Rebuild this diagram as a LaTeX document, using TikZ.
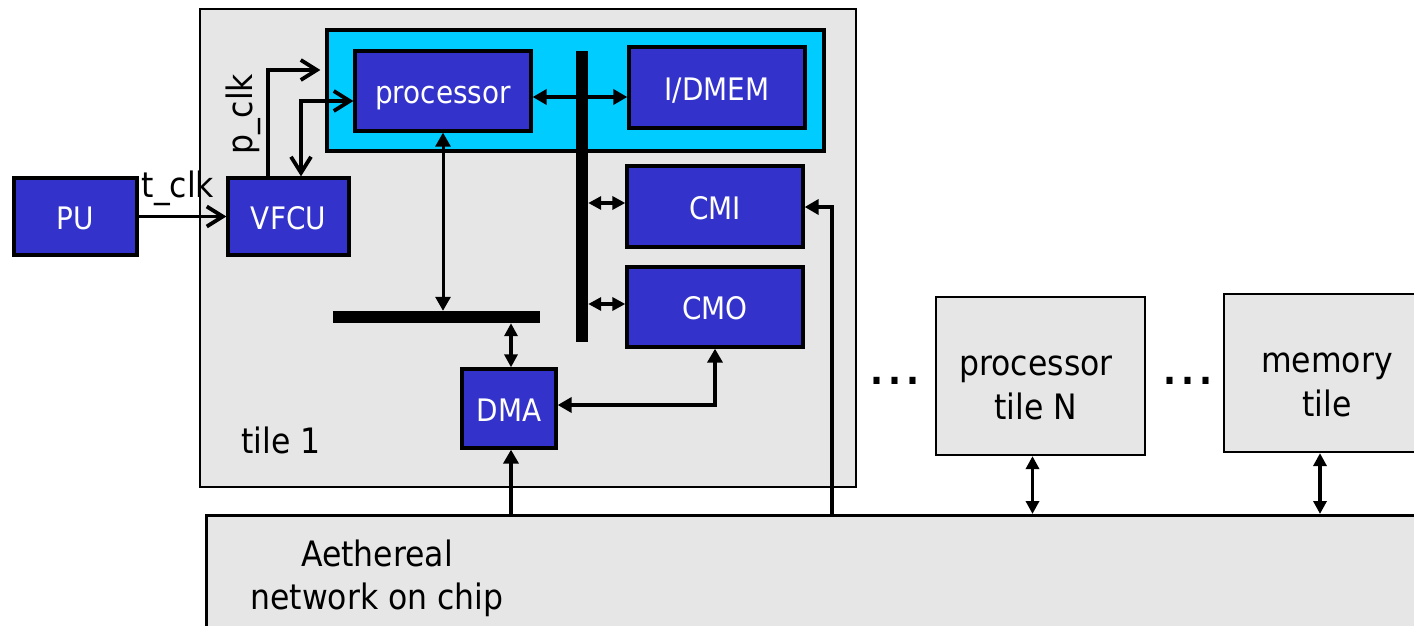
\documentclass[tikz,border=0pt]{standalone}
\usepackage{fontspec}
\setmainfont{DejaVu Sans}[FakeStretch=0.9]
\usetikzlibrary{arrows.meta}
\definecolor{chipblue}{HTML}{3333CC}
\definecolor{cyanreg}{HTML}{00CCFF}
\definecolor{tilegray}{HTML}{E6E6E6}
\newcommand\boxfont{\fontsize{31pt}{37pt}\selectfont}
\newcommand\bigfont{\fontsize{35pt}{43pt}\selectfont}
\newcommand\dotfont{\fontsize{38pt}{46pt}\selectfont\bfseries}
\newcommand\spreaddots{.\kern5pt.\kern5pt.}

\begin{document}
\begin{tikzpicture}[x=1pt,y=-1pt,
  sz/.style 2 args={minimum width=#1pt, minimum height=#2pt},
  unit/.style={draw, line width=3.3pt, fill=chipblue, text=white, inner sep=0pt,
    font=\boxfont, text height=25pt, text depth=0pt},
  tilebox/.style={draw, line width=2.2pt, fill=tilegray, inner sep=0pt},
  busbar/.style={fill=black, inner sep=0pt},
  lbl/.style={font=\bigfont, inner sep=0pt},
  tri/.tip={Triangle[length=14pt,width=15pt]},
  smalltri/.tip={Triangle[length=13pt,width=13pt]},
  barb/.tip={Straight Barb[length=16pt,width=20pt]},
  link/.style={line width=3.8pt, tri-tri},
  thinlink/.style={line width=3pt, tri-tri},
  shortlink/.style={line width=3.4pt, smalltri-smalltri},
  feed/.style={line width=3.8pt, -tri},
  clk/.style={line width=3.8pt, -barb},
  clkboth/.style={line width=3.8pt, barb-barb},
]
\useasboundingbox (0,0) rectangle (1414,626);
\clip (0,0) rectangle (1414,626);

% network on chip
\node[tilebox, line width=2.5pt, anchor=north west, sz={1260}{150}] (noc) at (205,514) {};
\node[lbl, anchor=base] (noclabelA) at (377,566) {Aethereal};
\node[lbl, anchor=base] (noclabelB) at (377,609) {network on chip};

% tile 1
\node[tilebox, sz={656}{478}] (tile1) at (528,248) {};
\node[lbl, anchor=base] (tilelabel) at (281,453) {tile 1};

% processor core region
\node[draw, line width=3.3pt, fill=cyanreg, inner sep=0pt, sz={497}{121}] (core) at (575.5,90.5) {};
\node[unit, sz={176}{80}] (proc) at (443,91) {processor};
\node[unit, sz={176}{81}] (imem) at (717,87.5) {I/DMEM};

% buses
\node[busbar, sz={12}{291}] (vbus) at (582,196.5) {};
\node[busbar, sz={207}{12}] (hbus) at (436.5,317) {};

% communication units
\node[unit, sz={176}{81}] (cmi) at (715,206.5) {CMI};
\node[unit, sz={176}{80}] (cmo) at (715,307) {CMO};
\node[unit, sz={94}{79}] (dma) at (509,408.5) {DMA};

% clocking
\node[unit, sz={123}{77}] (pu) at (75.5,216.5) {PU};
\node[unit, sz={121}{77}] (vfcu) at (288.5,216.5) {VFCU};
\node[lbl, anchor=base] (tclk) at (178,197) {t\_clk};
\node[lbl, rotate=90] (pclk) at (243,114) {p\_clk};

% other tiles
\node[tilebox, sz={209}{158}] (procN) at (1040.5,376) {};
\node[lbl, anchor=base] (procNa) at (1036,375) {processor};
\node[lbl, anchor=base] (procNb) at (1036,419) {tile N};
\node[tilebox, sz={206}{158}] (memtile) at (1327,373) {};
\node[lbl, anchor=base] (memtilea) at (1327,372) {memory};
\node[lbl, anchor=base] (memtileb) at (1327,416) {tile};
\node[inner sep=0pt, font=\dotfont, anchor=base] (dotsA) at (895,384) {\spreaddots};
\node[inner sep=0pt, font=\dotfont, anchor=base] (dotsB) at (1188,384) {\spreaddots};

% network taps
\coordinate (cmitap) at (832,514);

% clock connections
\draw[clk] (pu.east) -- (vfcu.west);
\draw[clk] ([xshift=-20.5pt]vfcu.north) |- ([shift={(-5,-20.5)}]core.west);
\draw[clkboth] ([yshift=-10pt]proc.west) -| ([xshift=12.5pt]vfcu.north);

% data connections
\draw[link] ([yshift=-6pt]proc.east) coordinate (pe) -- (pe -| imem.west);
\draw[thinlink] (proc.south) -- (proc.south |- hbus.north);
\draw[shortlink] ([yshift=3.5pt]cmi.west) coordinate (ci) -- (ci -| vbus.east);
\draw[shortlink] ([yshift=3pt]cmo.west) coordinate (co) -- (co -| vbus.east);
\draw[shortlink] ([xshift=2pt]dma.north) coordinate (dn) -- (dn |- hbus.south);
\draw[link] ([yshift=3.5pt]dma.east) -| (cmo.south);
\draw[feed] ([xshift=2pt]dma.south |- noc.north) -- ([xshift=2pt]dma.south);
\draw[feed] (cmitap) |- ([yshift=-0.5pt]cmi.east);
\draw[shortlink] ([xshift=-8pt]procN.south) coordinate (pn) -- (pn |- noc.north);
\draw[shortlink] ([xshift=-7pt]memtile.south) coordinate (mn) -- (mn |- noc.north);
\end{tikzpicture}
\end{document}
